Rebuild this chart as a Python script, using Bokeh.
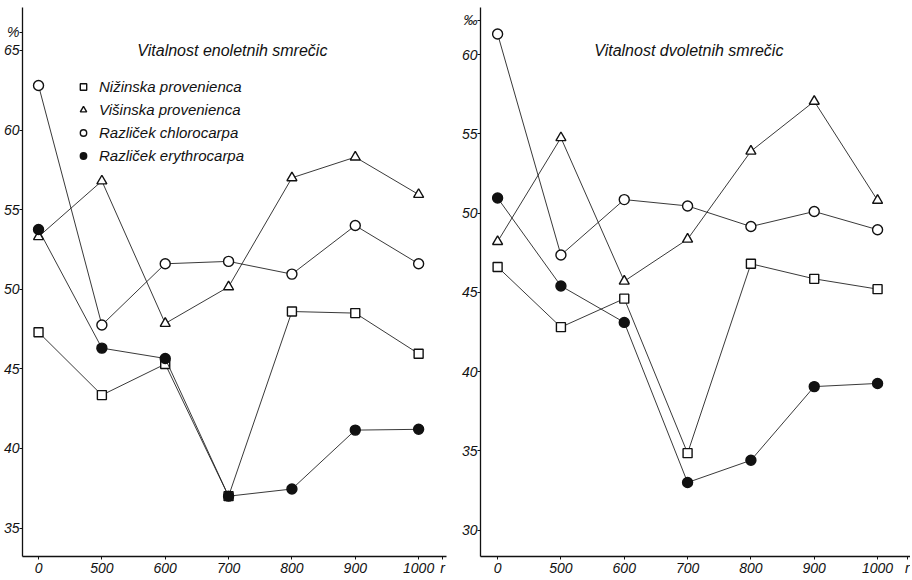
from bokeh.plotting import figure
from bokeh.layouts import row
from bokeh.models import Range1d, FixedTicker, Legend, LegendItem, Label
from bokeh.embed import file_html
from bokeh.resources import INLINE

# ---- data ----
altitudes = ["0", "500", "600", "700", "800", "900", "1000"]
series_names = ["Nižinska provenienca", "Višinska provenienca",
                "Različek chlorocarpa", "Različek erythrocarpa"]

# one-year-old spruces (left panel), %
left_nizinska = [47.3, 43.35, 45.3, 37.0, 48.6, 48.5, 45.95]
left_visinska = [53.3, 56.8, 47.85, 50.15, 57.0, 58.3, 55.95]
left_chloro = [62.8, 47.75, 51.6, 51.75, 50.95, 54.0, 51.6]
left_erythro = [53.75, 46.3, 45.65, 37.0, 37.45, 41.15, 41.2]

# two-year-old spruces (right panel)
right_nizinska = [46.6, 42.8, 44.6, 34.85, 46.8, 45.85, 45.2]
right_visinska = [48.2, 54.75, 45.7, 48.35, 53.9, 57.05, 50.8]
right_chloro = [61.3, 47.35, 50.85, 50.45, 49.15, 50.1, 48.95]
right_erythro = [50.95, 45.4, 43.1, 33.0, 34.4, 39.05, 39.25]

left_yticks = [35, 40, 45, 50, 55, 60, 65]
right_yticks = [30, 35, 40, 45, 50, 55, 60]

FONT = "Liberation Sans"
INK = "#111111"


def make_panel(title, values, yticks, xr, yr, width, height, unit, unit_y,
               with_legend, title_xy, border_left, border_right, border_top,
               r_tick):
    xs = list(range(len(altitudes)))
    p = figure(width=width, height=height, output_backend="svg",
               toolbar_location=None,
               x_range=Range1d(*xr), y_range=Range1d(*yr),
               min_border_left=border_left, min_border_right=border_right,
               min_border_top=border_top, min_border_bottom=0)
    p.outline_line_color = None
    p.grid.visible = False
    p.background_fill_color = "white"
    p.border_fill_color = "white"

    # axes
    p.xaxis.ticker = FixedTicker(ticks=xs + [r_tick])
    ov = {i: lab for i, lab in enumerate(altitudes)}
    ov[r_tick] = "r"
    p.xaxis.major_label_overrides = ov
    p.yaxis.ticker = FixedTicker(ticks=yticks + [unit_y])
    p.yaxis.major_label_overrides = {unit_y: unit}
    for ax in (p.xaxis[0], p.yaxis[0]):
        ax.axis_line_color = INK
        ax.axis_line_width = 1.3
        ax.major_tick_line_color = INK
        ax.major_tick_in = 0
        ax.major_tick_out = 3
        ax.minor_tick_line_color = None
        ax.major_label_text_font = FONT
        ax.major_label_text_font_style = "italic"
        ax.major_label_text_font_size = "14px"
        ax.major_label_text_color = INK
        ax.major_label_standoff = 0

    shapes = [("square", values[0], "white", 9),
              ("triangle", values[1], "white", 10),
              ("circle", values[2], "white", 10),
              ("circle", values[3], INK, 10)]
    items = []
    for name, (marker, ys, fill, size) in zip(series_names, shapes):
        p.line(xs, ys, line_color="#222222", line_width=0.9)
        r = p.scatter(xs, ys, marker=marker, size=size, fill_color=fill,
                      line_color=INK, line_width=1.4)
        items.append(LegendItem(label=name, renderers=[r]))

    if with_legend:
        leg = Legend(items=items, location=(53, 390),
                     background_fill_alpha=0, border_line_color=None,
                     label_text_font=FONT, label_text_font_style="italic",
                     label_text_font_size="15px", label_text_color=INK,
                     glyph_width=16, glyph_height=21, spacing=2,
                     label_standoff=8, padding=0, margin=0)
        p.add_layout(leg)

    p.add_layout(Label(x=title_xy[0], y=title_xy[1], text=title,
                       text_font=FONT, text_font_style="italic",
                       text_font_size="16px", text_color=INK,
                       text_align="center", text_baseline="middle"))
    return p


left = make_panel("Vitalnost enoletnih smrečic",
                  [left_nizinska, left_visinska, left_chloro, left_erythro],
                  left_yticks, (-0.253, 6.44), (33.21, 67.70), 458, 578,
                  "%", 66.13, True, (3.06, 65.0), 22, 12, 7, 6.38)
right = make_panel("Vitalnost dvoletnih smrečic",
                   [right_nizinska, right_visinska, right_chloro, right_erythro],
                   right_yticks, (-0.27, 6.52), (28.33, 62.97), 452, 578,
                   "‰", 62.15, False, (3.02, 60.25), 16, 0, 7, 6.47)

layout = row(left, right)
open("out.html", "w").write(file_html(layout, INLINE))
